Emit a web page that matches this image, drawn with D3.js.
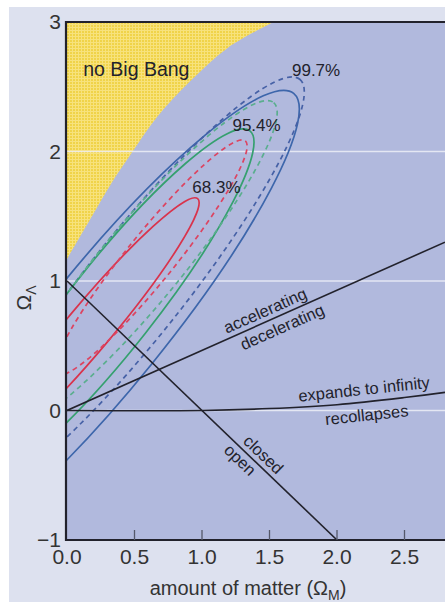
<!DOCTYPE html>
<html><head><meta charset="utf-8">
<script src="https://cdn.jsdelivr.net/npm/d3@7"></script>
<style>body{margin:0;background:#fff}svg{display:block}</style>
</head><body><svg id="c" width="445" height="602"></svg>
<script>
// ---------- data ----------
const xTicks = [0, 0.5, 1, 1.5, 2, 2.5];
const xTickLabels = ["0.0", "0.5", "1.0", "1.5", "2.0", "2.5"];
const yTicks = [3, 2, 1, 0, -1];
const yTickLabels = ["3", "2", "1", "0", "−1"];
const gridValues = [0, 1, 2];
const noBigBang = [[0,1.17],[0.185,1.50],[0.32,1.74],[0.48,1.99],[0.67,2.27],[0.91,2.54],[1.19,2.80],[1.53,3.0]];
const accelLine = [[0,0],[2.8,1.3]];
const closedLine = [[0,1],[2,-1]];
const expandLine = [[0,0],[1,0],[1.5,0.015],[2,0.045],[2.5,0.1],[2.8,0.14]];
// confidence contours (ellipses): centre, end of long axis, half-width (in Ω_M units)
const contourNames = ["99.7% a", "99.7% b", "95.4% a", "95.4% b", "68.3% a", "68.3% b"];
const contourCentres = [[0.281,0.649],[0.500,0.950],[0.330,0.803],[0.541,1.126],[0.168,0.642],[0.622,1.181]];
const contourTips = [[1.679,2.449],[1.724,2.558],[1.355,2.159],[1.531,2.378],[0.968,1.636],[1.321,2.082]];
const contourHalfWidths = [0.444, 0.370, 0.319, 0.296, 0.170, 0.178];
const contourColours = ["#3d66ab", "#4661a6", "#35a06f", "#5aae8e", "#d9334c", "#dc4461"];
const contourDashed = [false, true, false, true, false, true];
const contourLabels = ["99.7%", "95.4%", "68.3%"];
const contourLabelPos = [[1.845,2.585],[1.404,2.162],[1.107,1.676]];

// ---------- layout ----------
const svg = d3.select("#c");
const x = d3.scaleLinear([0, 2.8], [67, 445]);
const y = d3.scaleLinear([-1, 3], [540, 22]);
const font = "'Liberation Sans', Arial, sans-serif";
const ink = "#22222c";

svg.append("rect").attr("x", 9).attr("y", 7).attr("width", 436).attr("height", 595).attr("fill", "#dde1ef");

const defs = svg.append("defs");
defs.append("clipPath").attr("id", "plot").append("rect")
  .attr("x", x(0)).attr("y", y(3)).attr("width", x(2.8) - x(0)).attr("height", y(-1) - y(3));
const pat = defs.append("pattern").attr("id", "yel").attr("patternUnits", "userSpaceOnUse")
  .attr("width", 3).attr("height", 3);
pat.append("rect").attr("width", 3).attr("height", 3).attr("fill", "#f0d349");
pat.append("rect").attr("width", 3).attr("height", 1).attr("fill", "#f7e27c");
pat.append("rect").attr("width", 1).attr("height", 3).attr("fill", "#f7e27c");

const g = svg.append("g").attr("clip-path", "url(#plot)");
g.append("rect").attr("x", x(0)).attr("y", y(3)).attr("width", x(2.8) - x(0)).attr("height", y(-1) - y(3))
  .attr("fill", "#b1b9dd");

const line = d3.line().x(d => x(d[0])).y(d => y(d[1]));
const smooth = d3.line().x(d => x(d[0])).y(d => y(d[1])).curve(d3.curveCatmullRom.alpha(0.5));
g.append("path")
  .attr("d", `M${x(0)},${y(3)}` + smooth(noBigBang).replace(/^M/, "L") + "Z")
  .attr("fill", "url(#yel)");

g.selectAll(".grid").data(gridValues).join("line")
  .attr("x1", x(0)).attr("x2", x(2.8)).attr("y1", d => y(d)).attr("y2", d => y(d))
  .attr("stroke", "#eef0f8").attr("stroke-width", 1.3).attr("opacity", 0.85);

contourCentres.forEach((c, i) => {
  const cx = x(c[0]), cy = y(c[1]);
  const tx = x(contourTips[i][0]), ty = y(contourTips[i][1]);
  const rx = Math.hypot(tx - cx, ty - cy);
  const ry = x(contourHalfWidths[i]) - x(0);
  const ang = Math.atan2(ty - cy, tx - cx) * 180 / Math.PI;
  g.append("ellipse").attr("cx", cx).attr("cy", cy).attr("rx", rx).attr("ry", ry)
    .attr("transform", `rotate(${ang},${cx},${cy})`)
    .attr("fill", "none").attr("stroke", contourColours[i]).attr("stroke-width", 1.7)
    .attr("stroke-dasharray", contourDashed[i] ? "5,4" : null);
});

[accelLine, closedLine].forEach(pts => g.append("path").datum(pts).attr("d", line)
  .attr("fill", "none").attr("stroke", ink).attr("stroke-width", 1.6));
g.append("path").datum(expandLine).attr("d", smooth).attr("fill", "none").attr("stroke", ink).attr("stroke-width", 1.6);

// region labels
g.append("text").attr("x", x(0.12)).attr("y", y(2.58)).text("no Big Bang")
  .attr("font-family", font).attr("font-size", 19.5).attr("fill", ink);
contourLabels.forEach((t, i) => g.append("text").attr("x", x(contourLabelPos[i][0])).attr("y", y(contourLabelPos[i][1]))
  .attr("text-anchor", "middle").attr("font-family", font).attr("font-size", 17).attr("fill", ink).text(t));

function lineLabel(p0, p1, at, txt, dy) {
  const X0 = x(p0[0]), Y0 = y(p0[1]), X1 = x(p1[0]), Y1 = y(p1[1]);
  const ang = Math.atan2(Y1 - Y0, X1 - X0) * 180 / Math.PI;
  const t = (at - p0[0]) / (p1[0] - p0[0]);
  const px = X0 + t * (X1 - X0), py = Y0 + t * (Y1 - Y0);
  g.append("text").attr("transform", `translate(${px},${py}) rotate(${ang})`).attr("dy", dy)
    .attr("text-anchor", "middle").attr("font-family", font).attr("font-size", 16.5).attr("fill", ink).text(txt);
}
lineLabel(accelLine[0], accelLine[1], 1.50, "accelerating", -5);
lineLabel(accelLine[0], accelLine[1], 1.56, "decelerating", 17);
lineLabel(expandLine[3], expandLine[4], 2.21, "expands to infinity", -7);
lineLabel(expandLine[3], expandLine[4], 2.21, "recollapses", 19);
lineLabel(closedLine[0], closedLine[1], 1.40, "closed", -5);
lineLabel(closedLine[0], closedLine[1], 1.33, "open", 15);

// frame
svg.append("path").attr("d", `M${x(2.8)},${y(3)}H${x(0) - 1}V${y(-1)}H${x(2.8)}`)
  .attr("fill", "none").attr("stroke", ink).attr("stroke-width", 2.2);
svg.selectAll(".xt").data(xTicks.slice(1)).join("line")
  .attr("x1", d => x(d)).attr("x2", d => x(d)).attr("y1", y(-1)).attr("y2", y(-1) - 10)
  .attr("stroke", "#55586a").attr("stroke-width", 1.3);

svg.selectAll(".xl").data(xTicks).join("text")
  .attr("x", d => x(d)).attr("y", y(-1) + 24).attr("text-anchor", "middle")
  .attr("font-family", font).attr("font-size", 21).attr("fill", "#333").text((d, i) => xTickLabels[i]);
svg.selectAll(".yl").data(yTicks).join("text")
  .attr("x", 61).attr("y", d => y(d) + 7).attr("text-anchor", "end")
  .attr("font-family", font).attr("font-size", 21).attr("fill", "#333").text((d, i) => yTickLabels[i]);

const xl = svg.append("text").attr("x", 248).attr("y", 595).attr("text-anchor", "middle")
  .attr("font-family", font).attr("font-size", 20).attr("fill", "#333");
xl.append("tspan").text("amount of matter (Ω");
xl.append("tspan").attr("font-size", 14).attr("dy", 5).text("M");
xl.append("tspan").attr("dy", -5).text(")");

const yl = svg.append("text").attr("transform", "translate(31,298) rotate(-90)").attr("text-anchor", "middle")
  .attr("font-family", font).attr("font-size", 21).attr("fill", "#333");
yl.append("tspan").text("Ω");
yl.append("tspan").attr("font-size", 14).attr("dy", 5).text("Λ");
</script></body></html>
